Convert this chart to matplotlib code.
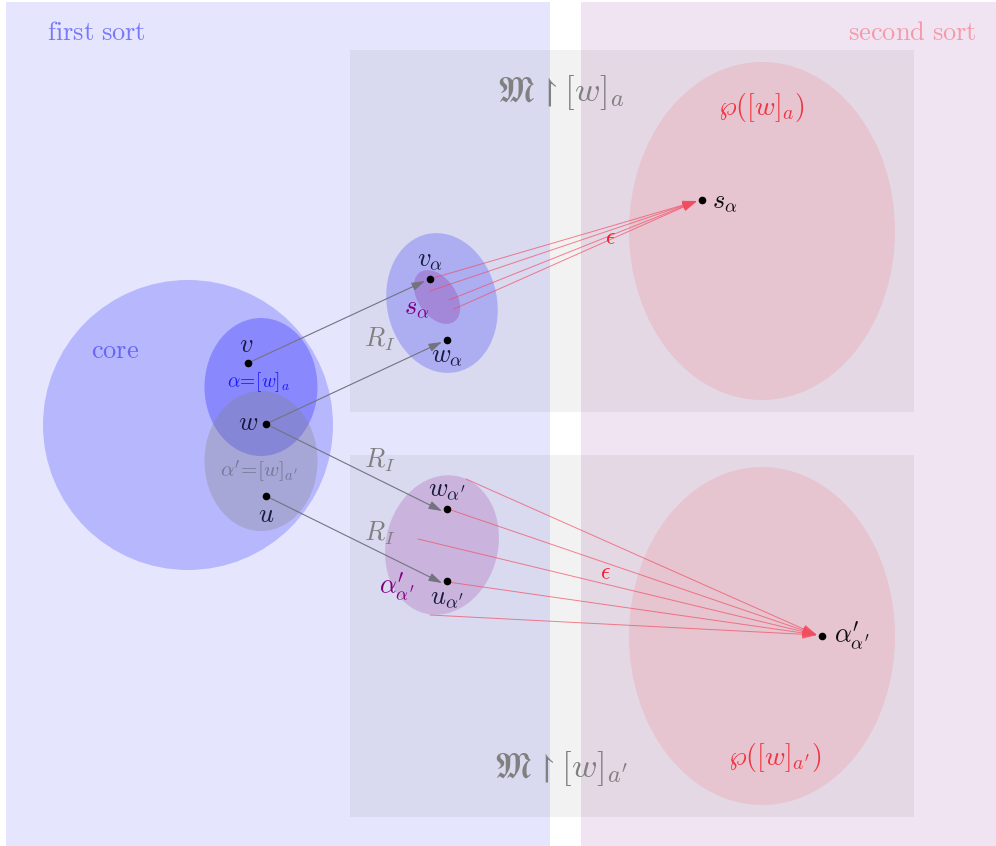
import matplotlib
matplotlib.use("Agg")
import matplotlib.pyplot as plt
from matplotlib.patches import Ellipse, Rectangle

plt.rcParams['mathtext.fontset'] = 'cm'
plt.rcParams['font.family'] = ['DejaVu Serif']

W, H = 996, 846

# ---- layout data (pixel coordinates of the diagram) ----
sort_regions = [(6, 2, 544, 844, (229/255, 229/255, 253/255)),
                (581, 2, 415, 844, (241/255, 228/255, 242/255))]
model_boxes = [(350, 50, 564, 362), (350, 455, 564, 362)]

# ellipses: (cx, cy, width, height, angle, color, alpha)
ellipses = [
    (188, 425, 290, 290, 0, 'blue', 0.20),            # core
    (261, 387, 113, 138, 0, 'blue', 0.25),            # alpha
    (261, 461, 113, 140, 0, 'grey', 0.30),            # alpha'
    (442, 303, 110, 141, -12, 'blue', 0.20),          # top model
    (437, 297, 38, 60, -35, 'purple', 0.22),          # s_alpha
    (442, 545, 112, 141, 14, 'purple', 0.17),         # bottom model
    (762, 231, 266, 338, 0, 'red', 0.09),             # powerset a
    (762, 636, 266, 338, 0, 'red', 0.09),             # powerset a'
]

pt_names = ['v', 'w', 'u', 'va', 'wa', 'wap', 'uap', 'sa', 'aap']
pt_x = [248, 266, 266, 430, 447, 447, 447, 702, 822]
pt_y = [363, 424, 496, 279, 340, 509, 581, 200, 636]
P = {n: (x, y) for n, x, y in zip(pt_names, pt_x, pt_y)}

gray_arrows = [('v', 'va'), ('w', 'wa'), ('w', 'wap'), ('u', 'uap')]

red_top_x = [430, 430, 449, 454]
red_top_y = [279, 291, 300, 309]
red_bot_x = [466, 448, 418, 448, 430]
red_bot_y = [479, 509, 539, 582, 615]

# labels: (x, y, text, size, color)
labels = [
    (96, 33, r'$\mathrm{first\ sort}$', 19, (0.47, 0.47, 0.98)),
    (912, 33, r'$\mathrm{second\ sort}$', 19, (0.96, 0.6, 0.67)),
    (115, 351, r'$\mathrm{core}$', 19, (0.40, 0.40, 0.95)),
    (246, 345, r'$v$', 19, (0.1, 0.1, 0.25)),
    (259, 382, r'$\alpha\!=\![w]_a$', 14, (0.1, 0.1, 1.0)),
    (248, 423, r'$w$', 19, (0.1, 0.1, 0.25)),
    (259, 472, r"$\alpha^{\prime}\!=\![w]_{a'}$", 15, (0.47, 0.47, 0.6)),
    (266, 514, r'$u$', 19, (0.1, 0.1, 0.25)),
    (430, 259, r'$v_\alpha$', 19, (0.1, 0.1, 0.25)),
    (417, 307, r'$s_\alpha$', 19, (0.5, 0.0, 0.5)),
    (447, 356, r'$w_\alpha$', 19, (0.1, 0.1, 0.25)),
    (380, 339, r'$R_I$', 19, (0.5, 0.5, 0.5)),
    (380, 460, r'$R_I$', 19, (0.5, 0.5, 0.5)),
    (380, 533, r'$R_I$', 19, (0.5, 0.5, 0.5)),
    (447, 490, r"$w_{\alpha'}$", 19, (0.1, 0.1, 0.25)),
    (447, 598, r"$u_{\alpha'}$", 19, (0.1, 0.1, 0.25)),
    (397, 587, r"$\alpha^{\prime}_{\alpha'}$", 19, (0.5, 0.0, 0.5)),
    (725, 202, r'$s_\alpha$', 19, (0.05, 0.05, 0.05)),
    (852, 636, r"$\alpha^{\prime}_{\alpha'}$", 19, (0.05, 0.05, 0.05)),
    (762, 108, r'$\wp([w]_a)$', 20, (0.95, 0.2, 0.25)),
    (775, 757, r"$\wp([w]_{a'})$", 20, (0.95, 0.2, 0.25)),
    (610, 238, r'$\epsilon$', 17, (0.95, 0.1, 0.15)),
    (605, 573, r'$\epsilon$', 17, (0.95, 0.1, 0.15)),
]
frak_labels = [
    (561, 92, r'$\mathfrak{M}\upharpoonright[w]_a$', 25),
    (561, 768, r"$\mathfrak{M}\upharpoonright[w]_{a'}$", 25),
]

fig = plt.figure(figsize=(W / 100, H / 100), dpi=100)
ax = fig.add_axes([0, 0, 1, 1])
ax.set_xlim(0, W)
ax.set_ylim(H, 0)
ax.axis('off')

for x, y, w, h, c in sort_regions:
    ax.add_patch(Rectangle((x, y), w, h, facecolor=c, edgecolor='none', zorder=0))
for x, y, w, h in model_boxes:
    ax.add_patch(Rectangle((x, y), w, h, facecolor='black', alpha=0.05,
                           edgecolor='none', zorder=1))
for cx, cy, w, h, ang, c, a in ellipses:
    ax.add_patch(Ellipse((cx, cy), w, h, angle=ang, facecolor=c, alpha=a,
                         edgecolor='none', zorder=2))

gcol = (0.45, 0.45, 0.5)
for s, t in gray_arrows:
    x0, y0 = P[s]
    x1, y1 = P[t]
    ax.annotate('', xy=(x1 - 5, y1 + 2), xytext=(x0, y0),
                arrowprops=dict(arrowstyle='-|>,head_length=0.8,head_width=0.25',
                                color=gcol, lw=0.8, shrinkA=0, shrinkB=0),
                zorder=4)

rcol = (0.95, 0.3, 0.38)
tx, ty = P['sa']
for x0, y0 in zip(red_top_x, red_top_y):
    ax.annotate('', xy=(tx - 5, ty + 1), xytext=(x0, y0),
                arrowprops=dict(arrowstyle='-|>,head_length=0.9,head_width=0.28',
                                color=rcol, lw=0.7, alpha=0.7, shrinkA=0, shrinkB=0),
                zorder=4)
tx, ty = P['aap']
for x0, y0 in zip(red_bot_x, red_bot_y):
    ax.annotate('', xy=(tx - 5, ty - 1), xytext=(x0, y0),
                arrowprops=dict(arrowstyle='-|>,head_length=0.9,head_width=0.28',
                                color=rcol, lw=0.7, alpha=0.7, shrinkA=0, shrinkB=0),
                zorder=4)

ax.scatter(pt_x, pt_y, s=20, color='black', zorder=5)

for x, y, t, s, c in labels:
    ax.text(x, y, t, fontsize=s, color=c, ha='center', va='center', zorder=6)
for x, y, t, s in frak_labels:
    ax.text(x, y, t, fontsize=s, color=(0.5, 0.5, 0.5), ha='center', va='center',
            zorder=6, math_fontfamily='cm')

fig.savefig('out.png', dpi=100)
